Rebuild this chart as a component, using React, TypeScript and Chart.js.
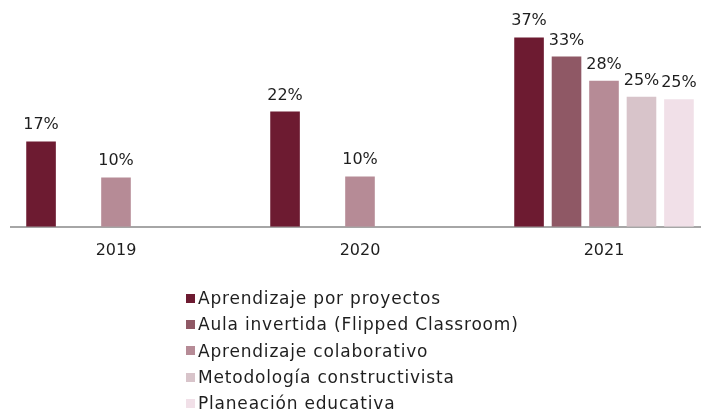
import React, { useEffect, useRef } from "react";
import { Chart, registerables } from "chart.js";

Chart.register(...registerables);

const categories = ["2019", "2020", "2021"];
const seriesNames = [
  "Aprendizaje por proyectos",
  "Aula invertida (Flipped Classroom)",
  "Aprendizaje colaborativo",
  "Metodología constructivista",
  "Planeación educativa",
];
const aprendizajeProyectos = [16.6, 22.4, 36.8];
const aulaInvertida = [null, null, 33.1];
const aprendizajeColaborativo = [9.6, 9.8, 28.4];
const metodologiaConstructivista = [null, null, 25.3];
const planeacionEducativa = [null, null, 24.8];
const seriesColors = ["#6d1b31", "#8f5865", "#b68b96", "#d8c4ca", "#f1e0e8"];

const FONT = "'DejaVu Sans', sans-serif";
const TEXT = "#1e1e1e";

const labelPlugin = {
  id: "valueLabels",
  afterDatasetsDraw(chart: any) {
    const ctx = chart.ctx;
    ctx.save();
    ctx.font = `16px ${FONT}`;
    ctx.fillStyle = TEXT;
    ctx.textAlign = "center";
    ctx.textBaseline = "alphabetic";
    chart.data.datasets.forEach((ds: any, i: number) => {
      const meta = chart.getDatasetMeta(i);
      meta.data.forEach((el: any, j: number) => {
        const v = ds.data[j];
        if (v === null || v === undefined) return;
        ctx.fillText(`${Math.round(v)}%`, el.x, el.y - 12);
      });
    });
    ctx.restore();
  },
};

export default function App() {
  const ref = useRef<HTMLCanvasElement>(null);
  useEffect(() => {
    const allSeries = [
      aprendizajeProyectos,
      aulaInvertida,
      aprendizajeColaborativo,
      metodologiaConstructivista,
      planeacionEducativa,
    ];
    const chart = new Chart(ref.current!, {
      type: "bar",
      data: {
        labels: categories,
        datasets: allSeries.map((d, i) => ({
          label: seriesNames[i],
          data: d as any,
          backgroundColor: seriesColors[i],
          borderWidth: 0,
          categoryPercentage: 0.768,
          barPercentage: 0.79,
        })),
      },
      options: {
        responsive: false,
        animation: false,
        layout: { padding: { top: 21, bottom: 139, left: 0, right: 0 } },
        plugins: { legend: { display: false }, tooltip: { enabled: false } },
        scales: {
          x: {
            grid: { display: false, drawTicks: false },
            border: { display: true, color: "#a6a6a6", width: 2 },
            ticks: { color: TEXT, font: { family: FONT, size: 16 }, padding: 14 },
          },
          y: { display: false, min: 0, max: 40 },
        },
      },
      plugins: [labelPlugin],
    });
    return () => chart.destroy();
  }, []);

  return (
    <div style={{ position: "fixed", left: 0, top: 0, width: 701, height: 413, background: "#fff", overflow: "hidden" }}>
      <div style={{ position: "absolute", left: 10, top: 0, width: 691, height: 413, overflow: "hidden" }}>
        <canvas ref={ref} width={732} height={413} style={{ position: "absolute", left: -16, top: 0, display: "block" }} />
      </div>
      <div style={{ position: "absolute", left: 186, top: 285, fontFamily: FONT, fontSize: 17, letterSpacing: "0.8px", color: TEXT }}>
        {seriesNames.map((n, i) => (
          <div key={n} style={{ display: "flex", alignItems: "center", height: 26.3, lineHeight: "26.3px", whiteSpace: "nowrap" }}>
            <span style={{ display: "inline-block", width: 9, height: 9, background: seriesColors[i], marginRight: 3 }} />
            <span>{n}</span>
          </div>
        ))}
      </div>
    </div>
  );
}
